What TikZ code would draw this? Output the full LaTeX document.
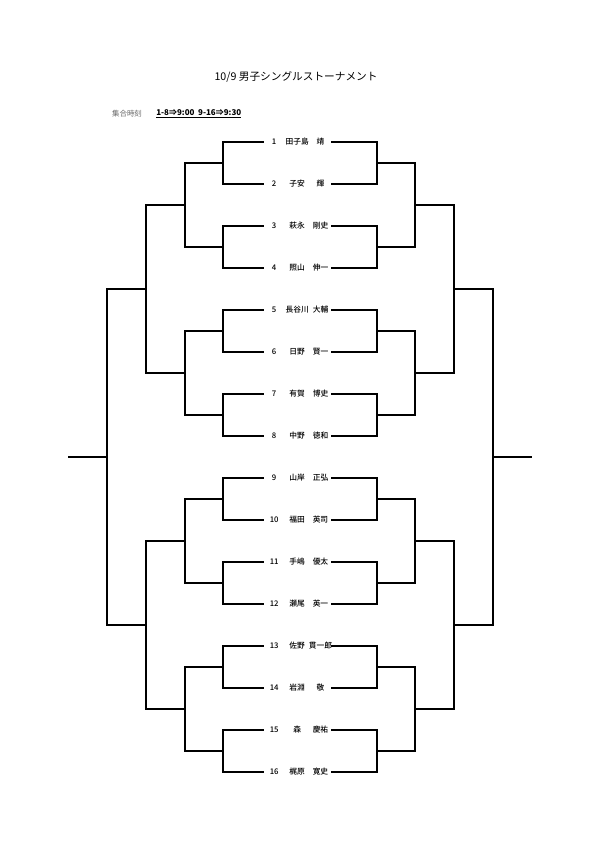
\documentclass[tikz,border=0pt]{standalone}
\usepackage{fontspec}
\setmainfont{Noto Sans CJK JP}
\newfontfamily\medfont{Noto Sans CJK JP Medium}
\newcommand\plentry[3]{\makebox[15pt]{#1}\makebox[19.5pt]{#2}\makebox[15.5pt]{#3}\hspace{1.5pt}}

\begin{document}
\begin{tikzpicture}[x=0.75pt,y=-0.75pt]
\tikzset{
  titletext/.style={inner sep=0pt,font=\fontsize{8}{9}\selectfont},
  headtext/.style={inner sep=0pt,font=\fontsize{5.6}{6.5}\selectfont},
  player/.style={inner sep=0pt,font=\medfont\fontsize{5.8}{6.8}\selectfont},
  bracket/.style={draw=black,line width=1.5pt,line join=miter}
}
\useasboundingbox (0,0) rectangle (600,849);
\node[titletext] (n_title) at (296,77) {10/9 男子シングルストーナメント};
\node[headtext,text=black!60] (n_time) at (127,114) {集合時刻};
\node[headtext,anchor=west,font=\fontsize{6}{7}\selectfont\bfseries] (n_sched) at (156,114) {\underline{1-8⇒9:00\ \ 9-16⇒9:30}};
% players
\node[player] (n_p1) at (297.5,142) {\plentry{1}{田子島}{靖}};
\node[player] (n_p2) at (297.5,184) {\plentry{2}{子安}{輝}};
\node[player] (n_p3) at (297.5,226) {\plentry{3}{萩永}{剛史}};
\node[player] (n_p4) at (297.5,268) {\plentry{4}{照山}{伸一}};
\node[player] (n_p5) at (297.5,310) {\plentry{5}{長谷川}{大輔}};
\node[player] (n_p6) at (297.5,352) {\plentry{6}{日野}{賢一}};
\node[player] (n_p7) at (297.5,394) {\plentry{7}{有賀}{博史}};
\node[player] (n_p8) at (297.5,436) {\plentry{8}{中野}{徳和}};
\node[player] (n_p9) at (297.5,478) {\plentry{9}{山岸}{正弘}};
\node[player] (n_p10) at (297.5,520) {\plentry{10}{福田}{英司}};
\node[player] (n_p11) at (297.5,562) {\plentry{11}{手嶋}{優太}};
\node[player] (n_p12) at (297.5,604) {\plentry{12}{瀬尾}{英一}};
\node[player] (n_p13) at (297.5,646) {\plentry{13}{佐野}{貫一郎}};
\node[player] (n_p14) at (297.5,688) {\plentry{14}{岩淵}{敬}};
\node[player] (n_p15) at (297.5,730) {\plentry{15}{森}{慶祐}};
\node[player] (n_p16) at (297.5,772) {\plentry{16}{梶原}{寛史}};
% left joints
\coordinate (c_a1) at (223,163);
\coordinate (c_a2) at (223,247);
\coordinate (c_a3) at (223,331);
\coordinate (c_a4) at (223,415);
\coordinate (c_a5) at (223,499);
\coordinate (c_a6) at (223,583);
\coordinate (c_a7) at (223,667);
\coordinate (c_a8) at (223,751);
\coordinate (c_b1) at (185,205);
\coordinate (c_b2) at (185,373);
\coordinate (c_b3) at (185,541);
\coordinate (c_b4) at (185,709);
\coordinate (c_c1) at (146,289);
\coordinate (c_c2) at (146,625);
\coordinate (c_d1) at (107,457);
\coordinate (c_e) at (68,457);
% right joints
\coordinate (c_A1) at (377,163);
\coordinate (c_A2) at (377,247);
\coordinate (c_A3) at (377,331);
\coordinate (c_A4) at (377,415);
\coordinate (c_A5) at (377,499);
\coordinate (c_A6) at (377,583);
\coordinate (c_A7) at (377,667);
\coordinate (c_A8) at (377,751);
\coordinate (c_B1) at (415,205);
\coordinate (c_B2) at (415,373);
\coordinate (c_B3) at (415,541);
\coordinate (c_B4) at (415,709);
\coordinate (c_C1) at (454,289);
\coordinate (c_C2) at (454,625);
\coordinate (c_D1) at (493,457);
\coordinate (c_E) at (532,457);
% left bracket
\draw[bracket] (n_p1.west) -| (c_a1) |- (n_p2.west);
\draw[bracket] (n_p3.west) -| (c_a2) |- (n_p4.west);
\draw[bracket] (n_p5.west) -| (c_a3) |- (n_p6.west);
\draw[bracket] (n_p7.west) -| (c_a4) |- (n_p8.west);
\draw[bracket] (n_p9.west) -| (c_a5) |- (n_p10.west);
\draw[bracket] (n_p11.west) -| (c_a6) |- (n_p12.west);
\draw[bracket] (n_p13.west) -| (c_a7) |- (n_p14.west);
\draw[bracket] (n_p15.west) -| (c_a8) |- (n_p16.west);
\draw[bracket] (c_a1) -| (c_b1) |- (c_a2);
\draw[bracket] (c_a3) -| (c_b2) |- (c_a4);
\draw[bracket] (c_a5) -| (c_b3) |- (c_a6);
\draw[bracket] (c_a7) -| (c_b4) |- (c_a8);
\draw[bracket] (c_b1) -| (c_c1) |- (c_b2);
\draw[bracket] (c_b3) -| (c_c2) |- (c_b4);
\draw[bracket] (c_c1) -| (c_d1) |- (c_c2);
\draw[bracket] (c_d1) -- (c_e);
% right bracket
\draw[bracket] (n_p1.east) -| (c_A1) |- (n_p2.east);
\draw[bracket] (n_p3.east) -| (c_A2) |- (n_p4.east);
\draw[bracket] (n_p5.east) -| (c_A3) |- (n_p6.east);
\draw[bracket] (n_p7.east) -| (c_A4) |- (n_p8.east);
\draw[bracket] (n_p9.east) -| (c_A5) |- (n_p10.east);
\draw[bracket] (n_p11.east) -| (c_A6) |- (n_p12.east);
\draw[bracket] (n_p13.east) -| (c_A7) |- (n_p14.east);
\draw[bracket] (n_p15.east) -| (c_A8) |- (n_p16.east);
\draw[bracket] (c_A1) -| (c_B1) |- (c_A2);
\draw[bracket] (c_A3) -| (c_B2) |- (c_A4);
\draw[bracket] (c_A5) -| (c_B3) |- (c_A6);
\draw[bracket] (c_A7) -| (c_B4) |- (c_A8);
\draw[bracket] (c_B1) -| (c_C1) |- (c_B2);
\draw[bracket] (c_B3) -| (c_C2) |- (c_B4);
\draw[bracket] (c_C1) -| (c_D1) |- (c_C2);
\draw[bracket] (c_D1) -- (c_E);
\end{tikzpicture}
\end{document}
